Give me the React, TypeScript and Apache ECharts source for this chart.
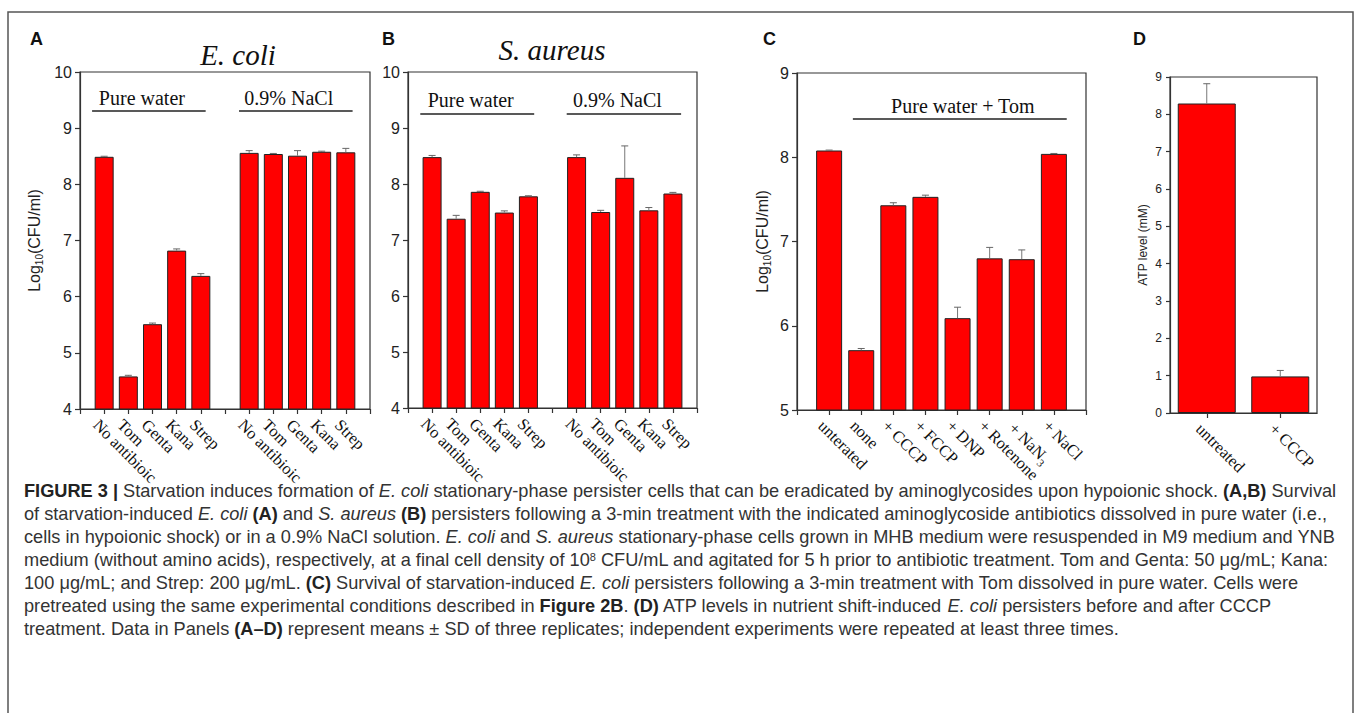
import React, { useEffect, useRef } from 'react';
import * as echarts from 'echarts';

const SERIF = '"Liberation Serif", "Times New Roman", serif';
const SANS = '"Liberation Sans", Arial, sans-serif';

// ---------- data ----------
const namesAB = ['No antibioic', 'Tom', 'Genta', 'Kana', 'Strep'];
const ecoliWater = [8.49, 4.58, 5.51, 6.82, 6.37];
const ecoliWaterErr = [0.01, 0.02, 0.02, 0.03, 0.04];
const ecoliNacl = [8.56, 8.54, 8.51, 8.58, 8.57];
const ecoliNaclErr = [0.04, 0.01, 0.09, 0.01, 0.07];
const saurWater = [8.48, 7.38, 7.86, 7.49, 7.78];
const saurWaterErr = [0.03, 0.06, 0.01, 0.03, 0.01];
const saurNacl = [8.48, 7.5, 8.11, 7.53, 7.83];
const saurNaclErr = [0.04, 0.03, 0.57, 0.05, 0.02];

const namesC = ['unterated', 'none', '+ CCCP', '+ FCCP', '+ DNP', '+ Rotenone', '+ NaN3', '+ NaCl'];
const survC = [8.08, 5.71, 7.43, 7.53, 6.09, 6.8, 6.79, 8.04];
const survCErr = [0.005, 0.02, 0.03, 0.02, 0.13, 0.13, 0.11, 0.005];

const namesD = ['untreated', '+ CCCP'];
const atp = [8.29, 0.98];
const atpErr = [0.53, 0.16];

const captionLines = [
  '{b|FIGURE 3 |} Starvation induces formation of {i|E. coli} stationary-phase persister cells that can be eradicated by aminoglycosides upon hypoionic shock. {b|(A,B)} Survival',
  'of starvation-induced {i|E. coli} {b|(A)} and {i|S. aureus} {b|(B)} persisters following a 3-min treatment with the indicated aminoglycoside antibiotics dissolved in pure water (i.e.,',
  'cells in hypoionic shock) or in a 0.9% NaCl solution. {i|E. coli} and {i|S. aureus} stationary-phase cells grown in MHB medium were resuspended in M9 medium and YNB',
  'medium (without amino acids), respectively, at a final cell density of 10{sup|8} CFU/mL and agitated for 5 h prior to antibiotic treatment. Tom and Genta: 50 μg/mL; Kana:',
  '100 μg/mL; and Strep: 200 μg/mL. {b|(C)} Survival of starvation-induced {i|E. coli} persisters following a 3-min treatment with Tom dissolved in pure water. Cells were',
  'pretreated using the same experimental conditions described in {b|Figure 2B}. {b|(D)} ATP levels in nutrient shift-induced {i|E. coli} persisters before and after CCCP',
  'treatment. Data in Panels {b|(A–D)} represent means ± SD of three replicates; independent experiments were repeated at least three times.',
];

// ---------- helpers ----------
const RED = '#ff0000';
const AXIS = '#333';
const CAP = 18.2;

const twoGroup = (a: number[], b: number[]) => [
  ...a.map((v, i) => [i + 1, v]),
  ...b.map((v, i) => [i + 7, v]),
];
const twoGroupErr = (a: number[], ae: number[], b: number[], be: number[]) => [
  ...a.map((v, i) => [i + 1, v, ae[i]]),
  ...b.map((v, i) => [i + 7, v, be[i]]),
];
const labelsAB = ['', ...namesAB, '', ...namesAB, ''];
const labelsC = ['', ...namesC, ''];

const errRender = (params: any, api: any) => {
  const x = api.value(0);
  const y = api.value(1);
  const e = api.value(2);
  const p0 = api.coord([x, y]);
  const p1 = api.coord([x, y + e]);
  return {
    type: 'group',
    children: [
      { type: 'line', shape: { x1: p0[0], y1: p0[1], x2: p1[0], y2: p1[1] }, style: { stroke: '#777', lineWidth: 1 } },
      { type: 'line', shape: { x1: p1[0] - 3.5, y1: p1[1], x2: p1[0] + 3.5, y2: p1[1] }, style: { stroke: '#666', lineWidth: 1 } },
    ],
  };
};

const catLabel = {
  rotate: -45,
  fontFamily: SERIF,
  fontSize: 16.5,
  color: '#111',
  margin: 5,
  verticalAlign: 'top',
  padding: [3, 0, 0, 0],
  rich: { s: { fontFamily: SERIF, fontSize: 11, color: '#111', verticalAlign: 'bottom', lineHeight: 23 } },
};

const valueX = (gi: number, max: number, labels: string[]) => ({
  type: 'value',
  gridIndex: gi,
  min: 0,
  max,
  interval: 1,
  splitLine: { show: false },
  axisLine: { show: true, lineStyle: { color: AXIS, width: 1.2 } },
  axisTick: { show: true, length: 5, lineStyle: { color: AXIS, width: 1.2 } },
  axisLabel: {
    ...catLabel,
    formatter: (v: number) => {
      const s = labels[Math.round(v)] || '';
      return s.endsWith('NaN3') ? s.slice(0, -1) + '{s|3}' : s;
    },
  },
});

const logName = '{n|Log}{s|10}{n|(CFU/ml)}';
const yAxisLog = (gi: number, min: number, max: number, gap: number | null) => ({
  type: 'value',
  gridIndex: gi,
  min,
  max,
  interval: 1,
  splitLine: { show: false },
  axisLine: { show: true, lineStyle: { color: AXIS, width: 1.2 } },
  axisTick: { show: true, length: 5, lineStyle: { color: AXIS, width: 1.2 } },
  axisLabel: { fontFamily: SANS, fontSize: 16, color: '#222', margin: 8 },
  ...(gap === null
    ? {}
    : {
        name: logName,
        nameLocation: 'middle',
        nameRotate: 90,
        nameGap: gap,
        nameTextStyle: {
          rich: {
            n: { fontFamily: SANS, fontSize: 16, color: '#222', lineHeight: 20 },
            s: { fontFamily: SANS, fontSize: 10, color: '#222', verticalAlign: 'bottom', lineHeight: 20 },
          },
        },
      }),
});

const groupLine = (name: string, x1: number, x2: number, y: number) => [
  { name, coord: [x1, y] },
  { coord: [x2, y] },
];
const markLineStyle = (data: any[], shiftLeft: number) => ({
  silent: true,
  symbol: ['none', 'none'],
  lineStyle: { color: '#222', width: 1.5, type: 'solid' },
  label: {
    show: true,
    position: 'middle',
    formatter: '{b}',
    fontFamily: SERIF,
    fontSize: 20,
    color: '#111',
    distance: 3,
    padding: shiftLeft > 0 ? [0, shiftLeft, 0, 0] : [0, 0, 0, -shiftLeft],
  },
  data,
});

const barItem = { color: RED, borderColor: '#222', borderWidth: 1 };

const option: any = {
  animation: false,
  backgroundColor: '#fff',
  grid: [
    { left: 80, top: 72, width: 290, height: 337, show: true, borderColor: AXIS, borderWidth: 1.2 },
    { left: 408, top: 72, width: 289, height: 336, show: true, borderColor: AXIS, borderWidth: 1.2 },
    { left: 797, top: 73, width: 289, height: 337, show: true, borderColor: AXIS, borderWidth: 1.2 },
    { left: 1170, top: 77, width: 147, height: 336, show: true, borderColor: AXIS, borderWidth: 1.2 },
  ],
  xAxis: [
    valueX(0, 12, labelsAB),
    valueX(1, 12, labelsAB),
    valueX(2, 9, labelsC),
    {
      type: 'category',
      gridIndex: 3,
      data: namesD,
      axisLine: { show: true, lineStyle: { color: AXIS, width: 1.2 } },
      axisTick: { show: true, alignWithLabel: true, length: 5, lineStyle: { color: AXIS, width: 1.2 } },
      axisLabel: { ...catLabel },
    },
  ],
  yAxis: [
    yAxisLog(0, 4, 10, 36),
    yAxisLog(1, 4, 10, null),
    yAxisLog(2, 5, 9, 25),
    {
      type: 'value',
      gridIndex: 3,
      min: 0,
      max: 9,
      interval: 1,
      splitLine: { show: false },
      axisLine: { show: true, lineStyle: { color: AXIS, width: 1.2 } },
      axisTick: { show: true, length: 4, lineStyle: { color: AXIS, width: 1.2 } },
      axisLabel: { fontFamily: SANS, fontSize: 12, color: '#222', margin: 8 },
      name: 'ATP level (mM)',
      nameLocation: 'middle',
      nameRotate: 90,
      nameGap: 21,
      nameTextStyle: { fontFamily: SANS, fontSize: 12, color: '#222' },
    },
  ],
  series: [
    {
      type: 'bar',
      xAxisIndex: 0,
      yAxisIndex: 0,
      barWidth: 19,
      itemStyle: barItem,
      data: twoGroup(ecoliWater, ecoliNacl),
      markLine: markLineStyle(
        [groupLine('Pure water', 0.5, 5.2, 9.31), groupLine('0.9% NaCl', 6.58, 11.28, 9.31)],
        14,
      ),
    },
    {
      type: 'custom',
      xAxisIndex: 0,
      yAxisIndex: 0,
      renderItem: errRender,
      data: twoGroupErr(ecoliWater, ecoliWaterErr, ecoliNacl, ecoliNaclErr),
      z: 5,
    },
    {
      type: 'bar',
      xAxisIndex: 1,
      yAxisIndex: 1,
      barWidth: 19,
      itemStyle: barItem,
      data: twoGroup(saurWater, saurNacl),
      markLine: markLineStyle(
        [groupLine('Pure water', 0.51, 5.24, 9.26), groupLine('0.9% NaCl', 6.59, 11.34, 9.26)],
        13,
      ),
    },
    {
      type: 'custom',
      xAxisIndex: 1,
      yAxisIndex: 1,
      renderItem: errRender,
      data: twoGroupErr(saurWater, saurWaterErr, saurNacl, saurNaclErr),
      z: 5,
    },
    {
      type: 'bar',
      xAxisIndex: 2,
      yAxisIndex: 2,
      barWidth: 26,
      itemStyle: barItem,
      data: survC.map((v, i) => [i + 1, v]),
      markLine: markLineStyle([groupLine('Pure water + Tom', 1.74, 8.4, 8.454)], -6),
    },
    {
      type: 'custom',
      xAxisIndex: 2,
      yAxisIndex: 2,
      renderItem: errRender,
      data: survC.map((v, i) => [i + 1, v, survCErr[i]]),
      z: 5,
    },
    {
      type: 'bar',
      xAxisIndex: 3,
      yAxisIndex: 3,
      barWidth: 58,
      itemStyle: barItem,
      data: atp,
    },
    {
      type: 'custom',
      xAxisIndex: 3,
      yAxisIndex: 3,
      renderItem: errRender,
      data: atp.map((v, i) => [i, v, atpErr[i]]),
      z: 5,
    },
  ],
  graphic: [
    { type: 'rect', shape: { x: 8, y: 12, width: 1345, height: 720 }, style: { fill: 'none', stroke: '#555', lineWidth: 1.5 }, silent: true },
    ...[
      ['A', 30],
      ['B', 382],
      ['C', 763],
      ['D', 1133],
    ].map(([t, x]) => ({
      type: 'text',
      x: x as number,
      y: 39,
      style: { text: t as string, fontFamily: SANS, fontWeight: 'bold', fontSize: 18, fill: '#111', align: 'left', verticalAlign: 'middle' },
    })),
    { type: 'text', x: 238, y: 55, style: { text: 'E. coli', fontFamily: SERIF, fontStyle: 'italic', fontSize: 29, fill: '#111', align: 'center', verticalAlign: 'middle' } },
    { type: 'text', x: 552, y: 50, style: { text: 'S. aureus', fontFamily: SERIF, fontStyle: 'italic', fontSize: 29, fill: '#111', align: 'center', verticalAlign: 'middle' } },
    ...captionLines.map((line, k) => ({
      type: 'text',
      x: 24,
      y: 491 + 23 * k,
      style: {
        text: line,
        fontFamily: SANS,
        fontSize: CAP,
        fill: '#333',
        align: 'left',
        verticalAlign: 'middle',
        rich: {
          b: { fontFamily: SANS, fontSize: CAP, fontWeight: 'bold', fill: '#222' },
          i: { fontFamily: SANS, fontSize: CAP, fontStyle: 'italic', fill: '#333' },
          sup: { fontFamily: SANS, fontSize: 11, fill: '#333', verticalAlign: 'top' },
        },
      },
    })),
  ],
};

export default function App() {
  const ref = useRef<HTMLDivElement>(null);
  useEffect(() => {
    const chart = echarts.init(ref.current!, null, { renderer: 'svg' });
    chart.setOption(option);
    return () => chart.dispose();
  }, []);
  return (
    <div
      ref={ref}
      style={{ position: 'absolute', left: 0, top: 0, width: 1357, height: 713, background: '#fff' }}
    />
  );
}
